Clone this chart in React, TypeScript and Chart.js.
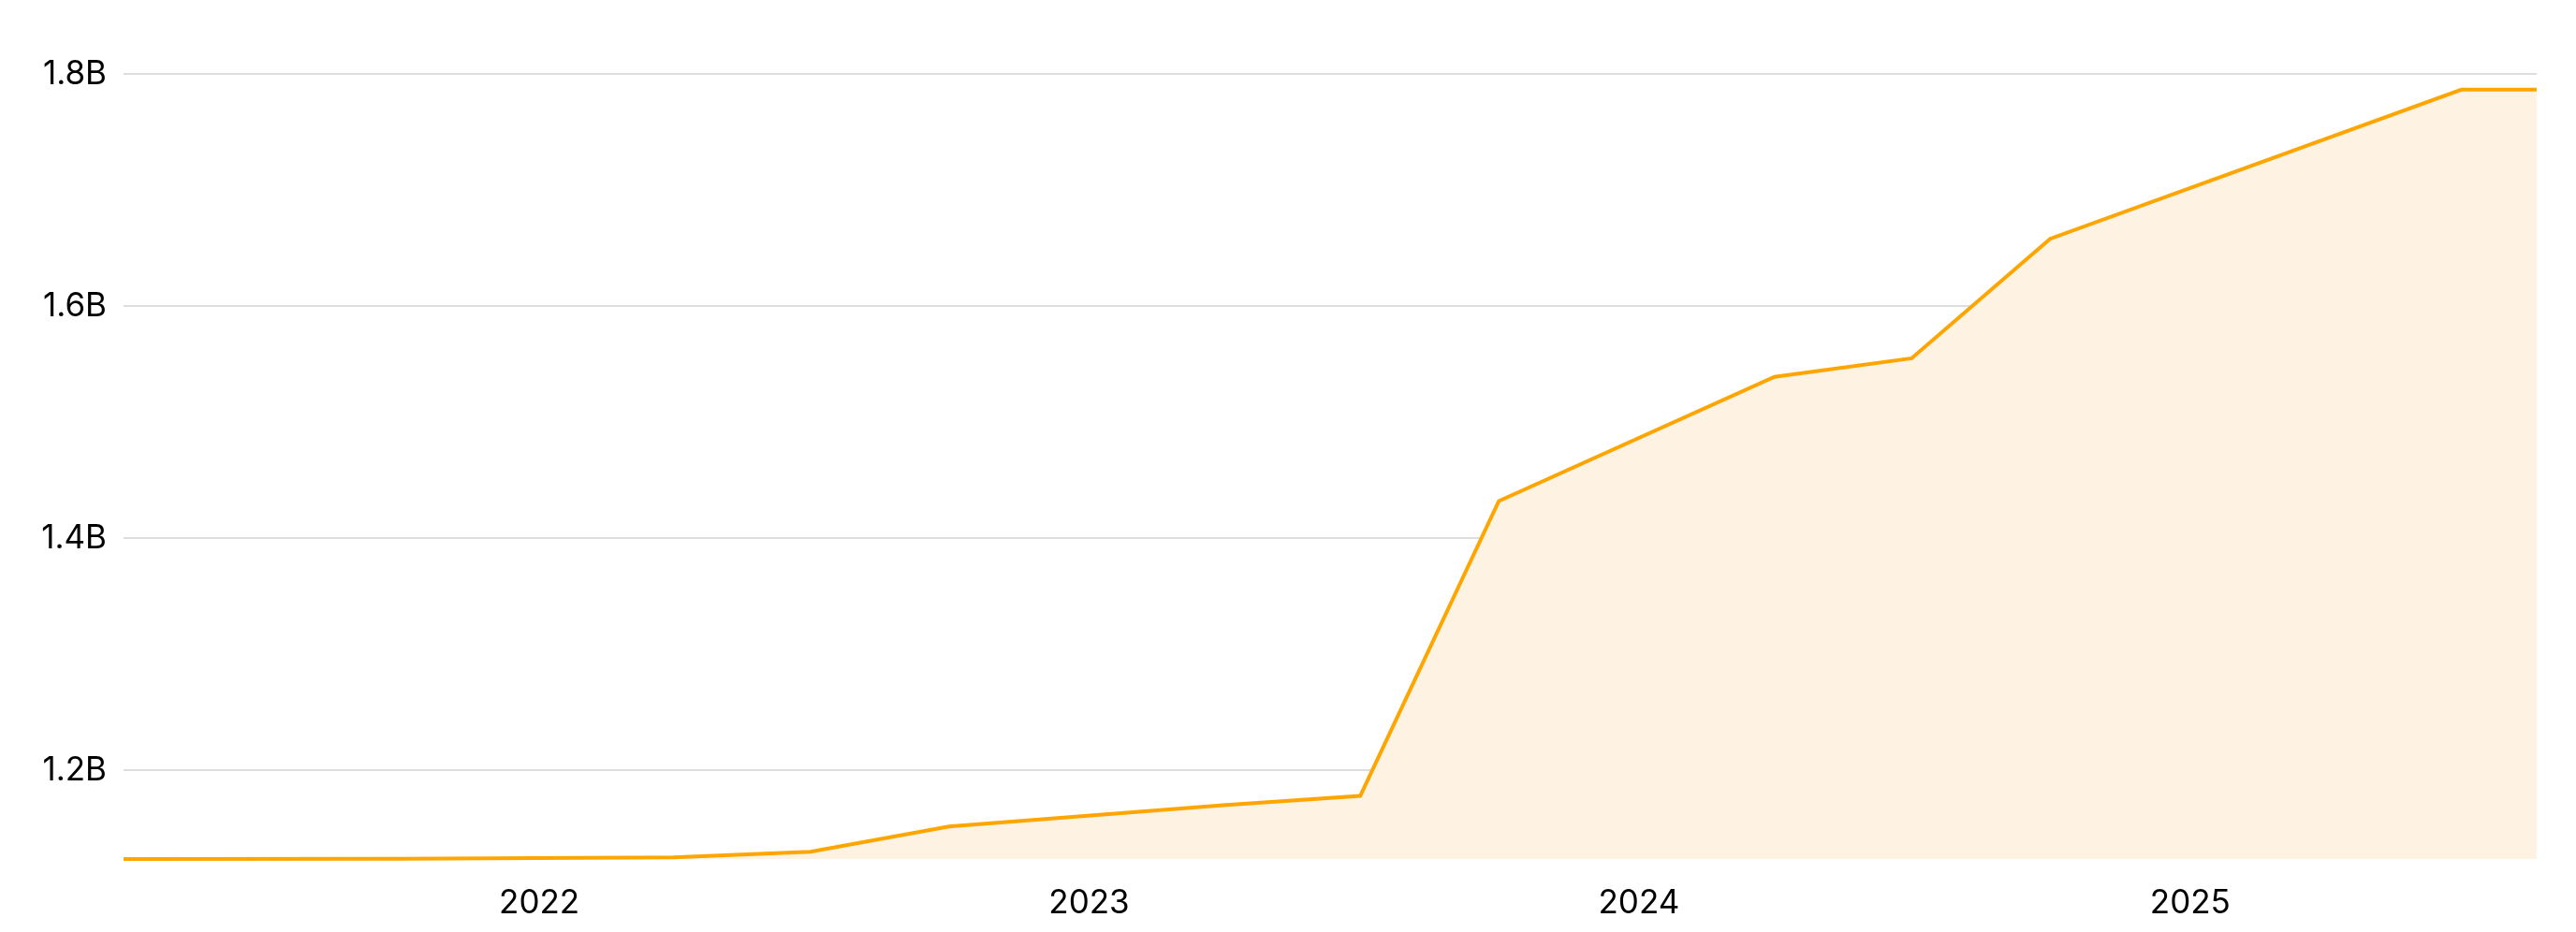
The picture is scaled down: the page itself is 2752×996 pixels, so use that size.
import React, { useEffect, useRef } from "react";
import { Chart, registerables } from "chart.js";

Chart.register(...registerables);

const dates = [
  "2021-03-31",
  "2021-09-30",
  "2022-03-31",
  "2022-06-30",
  "2022-09-30",
  "2023-03-31",
  "2023-06-30",
  "2023-09-30",
  "2024-03-31",
  "2024-06-30",
  "2024-09-30",
  "2025-06-30",
  "2025-08-19",
];

// values in billions
const values = [
  1.1236, 1.1238, 1.125, 1.1298, 1.1516, 1.17, 1.178, 1.432, 1.539, 1.555, 1.658, 1.7865, 1.7865,
];

const yearTicks = [2022, 2023, 2024, 2025];
const yTicks = [1.2, 1.4, 1.6, 1.8];
const yMin = 1.1236;
const yMax = 1.8;

const toMs = (d: string) => Date.parse(d + "T00:00:00Z");

export default function App() {
  const ref = useRef<HTMLCanvasElement | null>(null);

  useEffect(() => {
    if (!ref.current) return;
    const points = dates.map((d, i) => ({ x: toMs(d), y: values[i] }));
    const font = { family: "Inter, 'Noto Sans', sans-serif", size: 35 };
    const chart = new Chart(ref.current, {
      type: "line",
      data: {
        datasets: [
          {
            data: points,
            borderColor: "#FFA500",
            backgroundColor: "#FEF2E3",
            borderWidth: 4,
            fill: "start",
            pointRadius: 0,
            tension: 0,
            clip: false as any,
          },
        ],
      },
      options: {
        animation: false,
        responsive: false,
        maintainAspectRatio: false,
        layout: { padding: { top: 79, right: 42, bottom: 0, left: 0 } },
        plugins: { legend: { display: false }, tooltip: { enabled: false } },
        scales: {
          x: {
            type: "linear",
            min: toMs(dates[0]),
            max: toMs(dates[dates.length - 1]),
            grid: { display: false, drawTicks: false },
            border: { display: false },
            afterBuildTicks: (scale: any) => {
              scale.ticks = yearTicks.map((y) => ({ value: Date.UTC(y, 0, 1) }));
            },
            afterFit: (scale: any) => {
              scale.height = 78;
            },
            ticks: {
              color: "#000",
              font,
              padding: 26,
              maxRotation: 0,
              autoSkip: false,
              callback: (v: any) => String(new Date(Number(v)).getUTCFullYear()),
            },
          },
          y: {
            type: "linear",
            min: yMin,
            max: yMax,
            grid: { color: "#DDDDDD", lineWidth: 2, drawTicks: false },
            border: { display: false },
            afterBuildTicks: (scale: any) => {
              scale.ticks = yTicks.map((v) => ({ value: v }));
            },
            afterFit: (scale: any) => {
              scale.width = 132;
            },
            ticks: {
              color: "#000",
              font,
              padding: 18,
              callback: (v: any) => Number(v).toFixed(1) + "B",
            },
          },
        },
      },
    });
    return () => chart.destroy();
  }, []);

  return (
    <div style={{ position: "fixed", left: 0, top: 0, width: 2752, height: 996, background: "#fff" }}>
      <canvas ref={ref} width={2752} height={996} style={{ width: 2752, height: 996, display: "block" }} />
    </div>
  );
}
